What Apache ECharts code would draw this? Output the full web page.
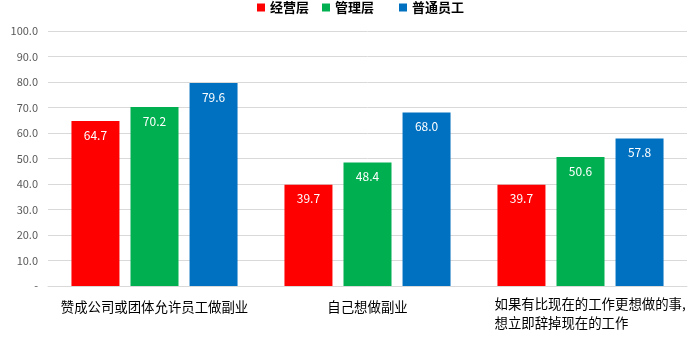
<!DOCTYPE html>
<html><head><meta charset="utf-8">
<script src="https://cdn.jsdelivr.net/npm/echarts@6/dist/echarts.min.js"></script>
<style>html,body{margin:0;padding:0;background:#fff}#c{width:695px;height:361px}</style>
</head><body><div id="c"></div>
<script>
var categories = ['赞成公司或团体允许员工做副业', '自己想做副业', '如果有比现在的工作更想做的事,\n想立即辞掉现在的工作'];
var seriesNames = ['经营层', '管理层', '普通员工'];
var managementTop = [64.7, 39.7, 39.7];
var management = [70.2, 48.4, 50.6];
var staff = [79.6, 68.0, 57.8];
var yTicks = [0, 10, 20, 30, 40, 50, 60, 70, 80, 90, 100];
var colors = ['#FF0000', '#00B050', '#0070C0'];
var FONT = '"Noto Sans CJK SC", "Noto Sans", sans-serif';
var FS = 13.4;

var chart = echarts.init(document.getElementById('c'));
function mk(name, data, color) {
  return {
    name: name, type: 'bar', data: data, barWidth: 48, barGap: '23%',
    itemStyle: { color: color },
    label: { show: true, position: 'insideTop', distance: 8, color: '#fff', fontSize: 12, fontFamily: FONT,
      formatter: function (p) { return p.value.toFixed(1); } }
  };
}
var legendText = { fontSize: 13, fontWeight: 'bold', color: '#000', fontFamily: FONT };
chart.setOption({
  animation: false,
  color: colors,
  legend: [
    { top: 1, left: 257, padding: 0, itemWidth: 8, itemHeight: 8, itemGap: 13, icon: 'rect', textStyle: legendText, data: [seriesNames[0], seriesNames[1]] },
    { top: 1, left: 399, padding: 0, itemWidth: 8, itemHeight: 8, itemGap: 13, icon: 'rect', textStyle: legendText, data: [seriesNames[2]] }
  ],
  grid: { left: 48, right: 8, top: 31, bottom: 75 },
  xAxis: {
    type: 'category', data: categories,
    axisTick: { show: false },
    axisLine: { lineStyle: { color: '#D9D9D9', width: 1 } },
    axisLabel: {
      interval: 0, margin: 8, color: '#000', fontSize: FS, fontFamily: FONT, lineHeight: 19,
      formatter: function (v, i) {
        if (v.indexOf('\n') >= 0) {
          return v.split('\n').map(function (s) { return '{l|' + s + '}'; }).join('\n');
        }
        return '{s|' + v + '}';
      },
      rich: {
        l: { width: 188, align: 'left', fontSize: FS, fontFamily: FONT, color: '#000', lineHeight: 19, padding: [0, 0, 0, 16] },
        s: { fontSize: FS, fontFamily: FONT, color: '#000', lineHeight: 19, padding: [7, 0, 0, 0] }
      }
    }
  },
  yAxis: {
    type: 'value', min: 0, max: 100, interval: 10,
    axisLine: { show: false }, axisTick: { show: false },
    splitLine: { lineStyle: { color: '#D9D9D9' } },
    axisLabel: {
      margin: 10, color: '#595959', fontSize: 11, fontFamily: FONT,
      formatter: function (v) { return yTicks.indexOf(v) === 0 ? '-' : v.toFixed(1); }
    }
  },
  series: [mk(seriesNames[0], managementTop, colors[0]), mk(seriesNames[1], management, colors[1]), mk(seriesNames[2], staff, colors[2])]
});
</script></body></html>
